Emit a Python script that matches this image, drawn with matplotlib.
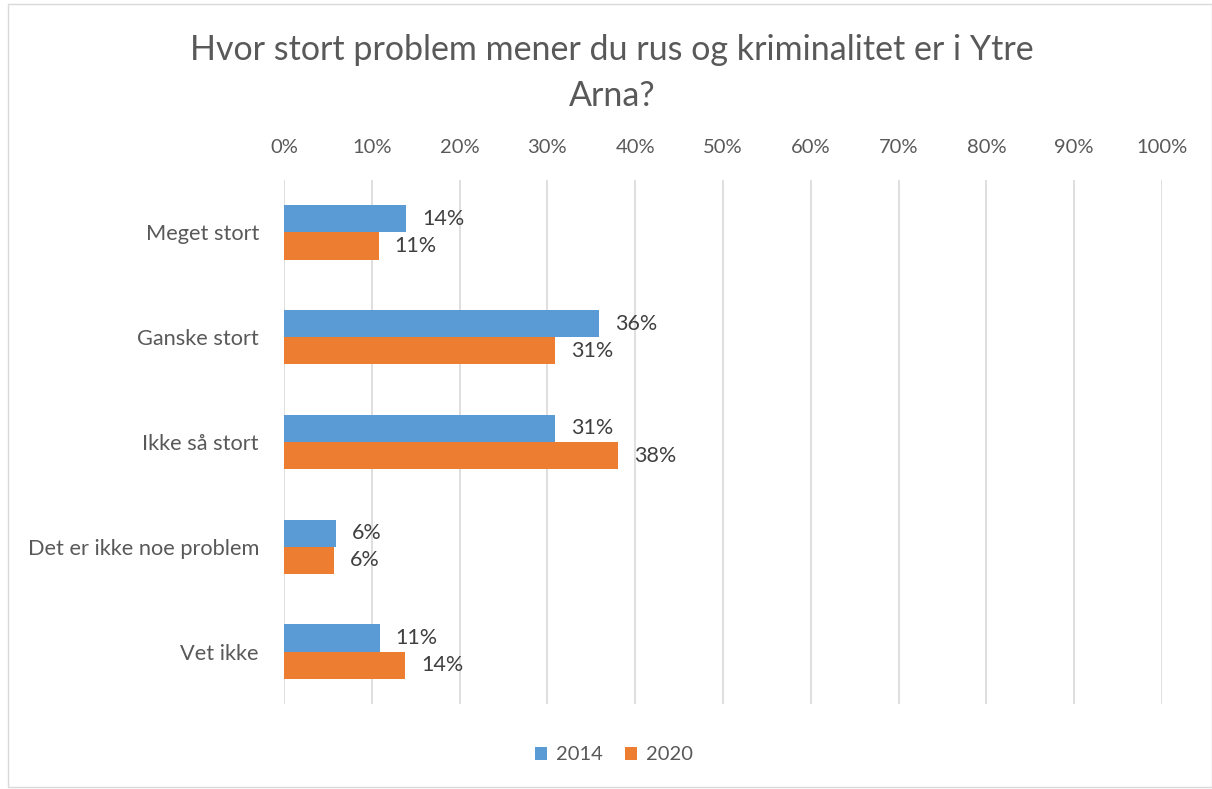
import matplotlib
matplotlib.use("Agg")
import matplotlib.pyplot as plt
from matplotlib.patches import Rectangle
import numpy as np

categories = ["Meget stort", "Ganske stort", "Ikke så stort", "Det er ikke noe problem", "Vet ikke"]
series_names = ["2014", "2020"]
values_2014 = [13.9, 35.9, 30.9, 5.9, 10.9]
values_2020 = [10.8, 30.9, 38.0, 5.7, 13.8]
labels_2014 = ["14%", "36%", "31%", "6%", "11%"]
labels_2020 = ["11%", "31%", "38%", "6%", "14%"]
xticks = list(range(0, 101, 10))
title = "Hvor stort problem mener du rus og kriminalitet er i Ytre\nArna?"

plt.rcParams['font.family'] = ['Lato', 'DejaVu Sans']

W, H = 1212, 789
fig = plt.figure(figsize=(W/100, H/100), dpi=100)
ax = fig.add_axes([284/W, 1 - 704/H, (1162-284)/W, (704-180)/H])

c1, c2 = "#5B9BD5", "#ED7D31"
y = np.arange(len(categories))
bh = 0.26
ax.barh(y - bh/2, values_2014, height=bh, color=c1, label=series_names[0], zorder=3)
ax.barh(y + bh/2, values_2020, height=bh, color=c2, label=series_names[1], zorder=3)

for i in range(len(categories)):
    ax.annotate(labels_2014[i], (values_2014[i], y[i] - bh/2), xytext=(11.5, 0),
                textcoords='offset points', va='center', ha='left',
                fontsize=15.5, color='#404040')
    ax.annotate(labels_2020[i], (values_2020[i], y[i] + bh/2), xytext=(11.5, 0),
                textcoords='offset points', va='center', ha='left',
                fontsize=15.5, color='#404040')

ax.set_xlim(0, 100)
ax.set_ylim(len(categories) - 0.5, -0.5)
ax.set_xticks(xticks)
ax.set_xticklabels([f"{t}%" for t in xticks])
ax.xaxis.tick_top()
ax.set_yticks(y)
ax.set_yticklabels(categories)
ax.tick_params(axis='both', length=0, colors='#595959')
ax.tick_params(axis='x', pad=17, labelsize=14.5)
ax.tick_params(axis='y', pad=18, labelsize=15.7)
ax.grid(axis='x', color='#D9D9D9', linewidth=1.2, zorder=0)
for s in ax.spines.values():
    s.set_visible(False)

fig.text(612/W, 1 - 73/H, title, ha='center', va='center', fontsize=24.5,
         color='#595959', linespacing=1.55)

leg = fig.legend(loc='center', bbox_to_anchor=(614/W, 1 - 755/H), ncol=2, frameon=False,
                 fontsize=14.5, handlelength=0.6, handleheight=0.6, columnspacing=1.1,
                 handletextpad=0.45)
for t in leg.get_texts():
    t.set_color('#595959')

fig.patches.append(Rectangle((8/W, 2/H), (W-8)/W, (H-6)/H, transform=fig.transFigure,
                             fill=False, edgecolor='#D9D9D9', linewidth=1))

fig.savefig("out.png", dpi=100)
